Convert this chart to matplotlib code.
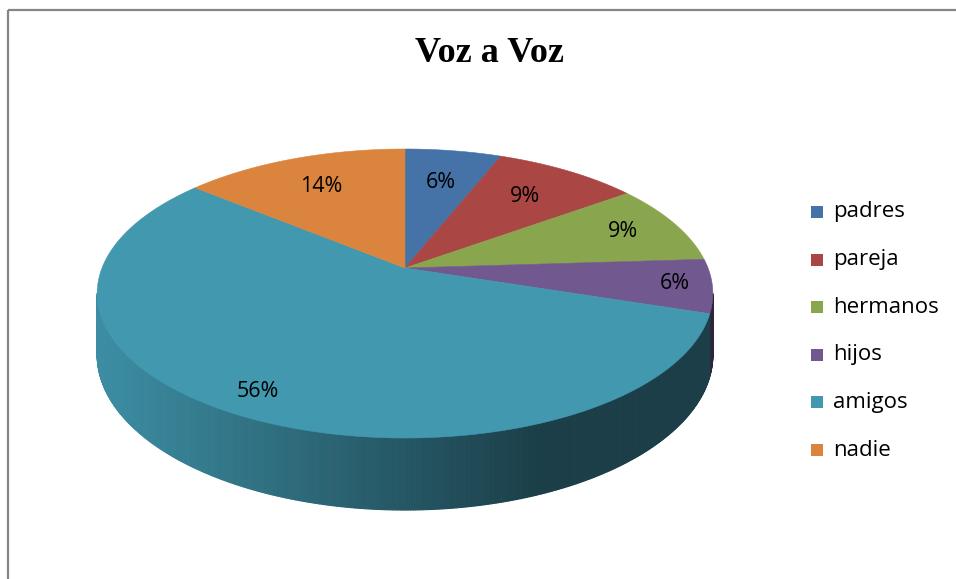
import numpy as np
import matplotlib
matplotlib.use("Agg")
import matplotlib.pyplot as plt
from matplotlib.patches import Polygon, Rectangle
from matplotlib.collections import PolyCollection
from matplotlib.colors import to_rgb

TITLE = "Voz a Voz"
CATEGORIES = ["padres", "pareja", "hermanos", "hijos", "amigos", "nadie"]
PERCENTS = [6, 9, 9, 6, 56, 14]
COLORS = ["#4572A7", "#AA4643", "#89A54E", "#71588F", "#4198AF", "#DB843D"]

# tilted pie geometry, in pixels
CX, CY = 405, 268
RX, RY = 303, 140
PERSP = 0.1765
DEPTH = 59.3
LABEL_R = [0.70, 0.71, 0.80, 0.88, 0.87, 0.72]
FONT = ["Open Sans", "DejaVu Sans"]


def project(theta, r=1.0, drop=0.0):
    # theta in degrees, clockwise from 12 o'clock
    t = np.radians(theta)
    u, v = r * np.sin(t), -r * np.cos(t)
    w = 1 - PERSP * v
    return CX + RX * u / w, CY + (RY * v + drop) / w


def shade(x):
    return np.interp(x, [100, 540], [0.93, 0.41])


fig = plt.figure(figsize=(9.56, 5.79), dpi=100)
ax = fig.add_axes([0, 0, 1, 1])
ax.set_xlim(0, 956)
ax.set_ylim(579, 0)
ax.axis("off")

# chart frame (only top and left edges are visible in the crop)
ax.plot([8.5, 956], [9.5, 9.5], color="#868686", lw=1.6, solid_capstyle="butt")
ax.plot([8.5, 8.5], [9.5, 579], color="#868686", lw=1.6, solid_capstyle="butt")

ends = np.cumsum(PERCENTS) / sum(PERCENTS) * 360
starts = np.concatenate([[0], ends[:-1]])

# side wall (front half only)
lo = 90 + np.degrees(np.arcsin(PERSP))
hi = 270 - np.degrees(np.arcsin(PERSP))
quads, qcols = [], []
for s, e, c in zip(starts, ends, COLORS):
    a, b = max(s, lo), min(e, hi)
    if a >= b:
        continue
    th = np.linspace(a, b, int((b - a) / 0.4) + 2)
    base = np.array(to_rgb(c))
    for t0, t1 in zip(th[:-1], th[1:]):
        x0, y0 = project(t0)
        x1, y1 = project(t1)
        x2, y2 = project(t1, drop=DEPTH)
        x3, y3 = project(t0, drop=DEPTH)
        quads.append([(x0, y0), (x1, y1), (x2, y2), (x3, y3)])
        qcols.append(base * shade((x0 + x1) / 2))
ax.add_collection(PolyCollection(quads, facecolors=qcols, edgecolors=qcols,
                                 linewidths=0.8, zorder=2))

# top face
for s, e, c in zip(starts, ends, COLORS):
    th = np.linspace(s, e, 200)
    xs, ys = project(th)
    pts = [(CX, CY)] + list(zip(xs, ys))
    ax.add_patch(Polygon(pts, closed=True, facecolor=c, edgecolor=c,
                         lw=0.4, zorder=3))

# data labels
for s, e, p, r in zip(starts, ends, PERCENTS, LABEL_R):
    lx, ly = project((s + e) / 2, r)
    ax.text(lx, ly, f"{p}%", ha="center", va="center", fontsize=15.5,
            family=FONT, color="black", zorder=4)

# title
ax.text(490, 53, TITLE, ha="center", va="center", fontsize=26,
        fontweight="bold", family=["Liberation Serif", "DejaVu Serif"])

# legend
for i, (name, c) in enumerate(zip(CATEGORIES, COLORS)):
    y = 212 + i * 47.6
    ax.add_patch(Rectangle((811.5, y - 6), 12, 12, facecolor=c, edgecolor="none"))
    ax.text(833, y, name, ha="left", va="center", fontsize=16, family=FONT)

fig.savefig("out.png", dpi=100)
